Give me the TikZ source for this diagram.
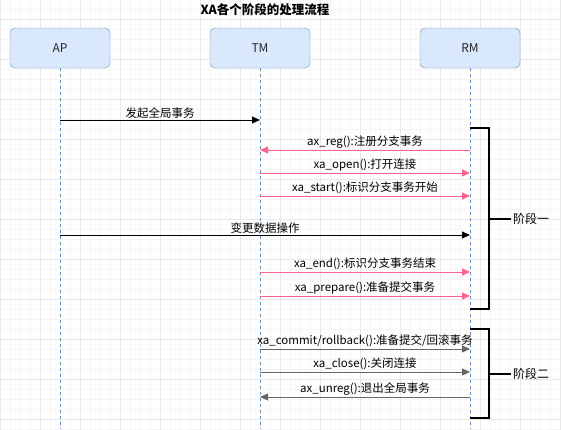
\documentclass[tikz,border=0pt]{standalone}
\usepackage{fontspec}
\setmainfont{Noto Sans CJK SC}
\usetikzlibrary{positioning,arrows.meta}
\definecolor{boxFill}{HTML}{DAE8FC}
\definecolor{boxLine}{HTML}{6C8EBF}
\definecolor{pinkLine}{HTML}{FF6392}
\definecolor{grayLine}{HTML}{666666}
\definecolor{gridMinor}{HTML}{F5F5F5}
\definecolor{gridMajor}{HTML}{E8E8E8}

\begin{document}
\begin{tikzpicture}[
    x=1pt, y=-1pt,
    font=\fontsize{11.5}{13}\selectfont,
    actor/.style={%
      draw=boxLine,
      fill=boxFill,
      rectangle,
      rounded corners=5pt,
      minimum width=100pt,
      minimum height=40pt,
      font=\fontsize{12}{14}\selectfont,
      text=black!85,
    },
    life/.style={%
      draw=boxLine,
      dash pattern=on 3pt off 3pt,
      line width=0.8pt,
    },
    msg/.style={%
      line width=0.9pt,
      -{Triangle[length=8pt,width=7pt]},
    },
    brace/.style={%
      line width=2pt,
    },
  ]

    % background and grid
    \useasboundingbox (0,0) rectangle (561,429);
    \fill [white] (0,0) rectangle (561,429);
    \draw [gridMinor, line width=0.6pt, step=10pt, yshift=-9.5pt] (0,-9.5) grid (561,429);
    \draw [gridMajor, line width=0.8pt, step=40pt, yshift=-19.5pt] (0,-19.5) grid (561,429);

    \node [font=\fontsize{12.5}{14}\selectfont\bfseries] (title) at (265,10) {XA各个阶段的处理流程};

    \node [actor] (ap) at (60,48) {AP};
    \node [actor] (tm) at (260,48) {TM};
    \node [actor] (rm) at (470,48) {RM};

    \coordinate (bot) at (0,429);
    \draw [life] (ap) -- (ap |- bot);
    \draw [life] (tm) -- (tm |- bot);
    \draw [life] (rm) -- (rm |- bot);

    % message rows
    \coordinate (y1) at (0,120);
    \coordinate (y2) at (0,150);
    \coordinate (y3) at (0,173);
    \coordinate (y4) at (0,196);
    \coordinate (y5) at (0,235);
    \coordinate (y6) at (0,272);
    \coordinate (y7) at (0,296);
    \coordinate (y8) at (0,349);
    \coordinate (y9) at (0,372);
    \coordinate (y10) at (0,397);

    \draw [msg] (ap |- y1) -- (tm |- y1) node [above,midway,inner sep=1.5pt] {发起全局事务};
    \draw [msg,pinkLine] (rm |- y2) -- (tm |- y2) node [above,midway,inner sep=1.5pt,black] {ax\_reg():注册分支事务};
    \draw [msg,pinkLine] (tm |- y3) -- (rm |- y3) node [above,midway,inner sep=1.5pt,black] {xa\_open():打开连接};
    \draw [msg,pinkLine] (tm |- y4) -- (rm |- y4) node [above,midway,inner sep=1.5pt,black] {xa\_start():标识分支事务开始};
    \draw [msg] (ap |- y5) -- (rm |- y5) node [above,midway,inner sep=1.5pt] {变更数据操作};
    \draw [msg,pinkLine] (tm |- y6) -- (rm |- y6) node [above,midway,inner sep=1.5pt,black] {xa\_end():标识分支事务结束};
    \draw [msg,pinkLine] (tm |- y7) -- (rm |- y7) node [above,midway,inner sep=1.5pt,black] {xa\_prepare():准备提交事务};
    \draw [msg,grayLine] (tm |- y8) -- (rm |- y8) node [above,midway,inner sep=1.5pt,black] {xa\_commit/rollback():准备提交/回滚事务};
    \draw [msg,grayLine] (tm |- y9) -- (rm |- y9) node [above,midway,inner sep=1.5pt,black] {xa\_close():关闭连接};
    \draw [msg,grayLine] (rm |- y10) -- (tm |- y10) node [above,midway,inner sep=1.5pt,black] {ax\_unreg():退出全局事务};

    % phase brackets
    \node [anchor=west,inner sep=2pt,font=\fontsize{12}{14}\selectfont] (ph1) at (511,219) {阶段一};
    \node [anchor=west,inner sep=2pt,font=\fontsize{12}{14}\selectfont] (ph2) at (511,374) {阶段二};
    \draw [brace] (470,128) -| (489,309) -- (470,309);
    \draw [brace] (489,219) -- (ph1.west);
    \draw [brace] (470,329) -| (489,418) -- (470,418);
    \draw [brace] (489,374) -- (ph2.west);
\end{tikzpicture}
\end{document}
